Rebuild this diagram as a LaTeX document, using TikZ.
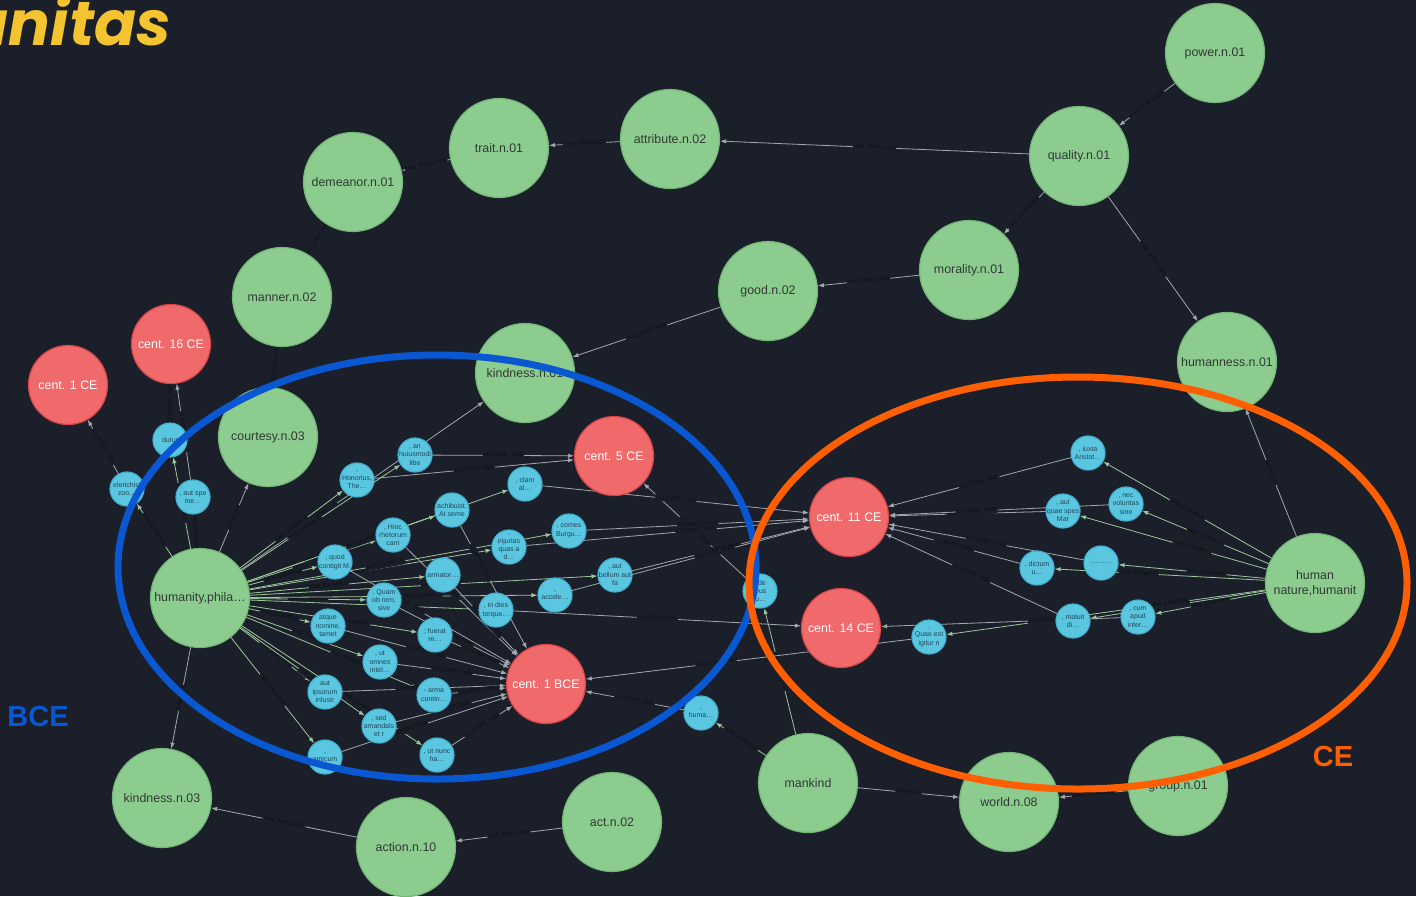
\documentclass[tikz,border=0pt]{standalone}
\usepackage{fontspec}
\setmainfont{Liberation Sans}
\newfontfamily\titlefont{Poppins}
\usetikzlibrary{arrows.meta}

\definecolor{bgc}{HTML}{1B1F2A}
\definecolor{greenfill}{HTML}{8DCC8F}
\definecolor{greenline}{HTML}{74B878}
\definecolor{greentext}{HTML}{2F3A33}
\definecolor{redfill}{HTML}{F0696B}
\definecolor{redline}{HTML}{D9464A}
\definecolor{cyanfill}{HTML}{5BC6E0}
\definecolor{cyanline}{HTML}{41B2CF}
\definecolor{cyantext}{HTML}{23475A}
\definecolor{edgegray}{HTML}{A3A7AE}
\definecolor{edgegreen}{HTML}{9CC79B}
\definecolor{labtext}{HTML}{0C0E13}
\definecolor{bceblue}{HTML}{0A57D2}
\definecolor{ceorange}{HTML}{FF5F00}
\definecolor{titleyellow}{HTML}{F4C430}

\pgfdeclarelayer{bg}
\pgfdeclarelayer{edges}
\pgfsetlayers{bg,edges,main}

\begin{document}
\begin{tikzpicture}[x=0.5pt, y=-0.5pt,
  word/.style={circle, draw=greenline, fill=greenfill, line width=0.6pt, minimum size=49.5pt,
               inner sep=0pt, align=center, text=greentext, font=\fontsize{6.2}{7.4}\selectfont},
  cent/.style={circle, draw=redline, fill=redfill, line width=0.6pt, minimum size=39.5pt,
               inner sep=0pt, text=white, font=\fontsize{6.2}{7.4}\selectfont},
  snippet/.style={circle, draw=cyanline, fill=cyanfill, line width=0.6pt, minimum size=17pt,
               inner sep=-2.5pt, align=center, text=cyantext, font=\fontsize{3.5}{4.2}\selectfont},
  sub/.style={draw=edgegray, line width=0.4pt, -{Latex[length=3pt,width=2.2pt]}},
  ex/.style={draw=edgegreen, line width=0.4pt, -{Latex[length=3pt,width=2.2pt]}},
  lab/.style={fill=bgc, text=labtext, inner sep=0.5pt, sloped, font=\fontsize{2.6}{3}\selectfont}]

  \path[use as bounding box, clip] (0,0) rectangle (1416,896);
  \begin{pgfonlayer}{bg}
    \fill[bgc] (0,0) rectangle (1416,896);
  \end{pgfonlayer}

  % title and period labels
  \node (title) [anchor=base east, text=titleyellow, font=\titlefont\bfseries\itshape\fontsize{31}{31}\selectfont]
        at (178,45) {Humanitas};
  \node (bce) [text=bceblue, font=\bfseries\fontsize{14.5}{15}\selectfont] at (38,716) {BCE};
  \node (ce)  [text=ceorange, font=\bfseries\fontsize{14.5}{15}\selectfont] at (1333,756) {CE};

  % synsets
  \node (power)       [word] at (1215,53)  {power.n.01};
  \node (quality)     [word] at (1079,156) {quality.n.01};
  \node (attribute)   [word] at (670,139)  {attribute.n.02};
  \node (trait)       [word] at (499,148)  {trait.n.01};
  \node (demeanor)    [word] at (353,182)  {demeanor.n.01};
  \node (manner)      [word] at (282,297)  {manner.n.02};
  \node (morality)    [word] at (969,270)  {morality.n.01};
  \node (good)        [word] at (768,291)  {good.n.02};
  \node (humanness)   [word] at (1227,362) {humanness.n.01};
  \node (kindnessa)   [word] at (525,373)  {kindness.n.01};
  \node (courtesy)    [word] at (268,437)  {courtesy.n.03};
  \node (humanity)    [word] at (200,598)  {humanity,phila\dots};
  \node (humannature) [word] at (1315,583) {human\\nature,humanit};
  \node (kindnessb)   [word] at (162,798)  {kindness.n.03};
  \node (action)      [word] at (406,847)  {action.n.10};
  \node (act)         [word] at (612,822)  {act.n.02};
  \node (mankind)     [word] at (808,783)  {mankind};
  \node (world)       [word] at (1009,802) {world.n.08};
  \node (group)       [word] at (1178,786) {group.n.01};

  % centuries
  \node (c1ce)  [cent] at (68,385)  {cent. 1 CE};
  \node (c16)   [cent] at (171,344) {cent. 16 CE};
  \node (c5)    [cent] at (614,456) {cent. 5 CE};
  \node (c11)   [cent] at (849,517) {cent. 11 CE};
  \node (c14)   [cent] at (841,628) {cent. 14 CE};
  \node (c1bce) [cent] at (546,684) {cent. 1 BCE};

  % example sentences
  \node (dutur)   [snippet] at (170,440) {dutur};
  \node (elen)    [snippet] at (127,489) {elenchist\\zoo\dots};
  \node (autspe)  [snippet] at (193,497) {, aut spe\\me\dots};
  \node (honor)   [snippet] at (357,480) {,\\Honorius,\\The\dots};
  \node (huius)   [snippet] at (415,455) {, an\\huiusmodi\\libe};
  \node (hinc)    [snippet] at (393,535) {, Hinc\\rhetorum\\cam};
  \node (achib)   [snippet] at (452,510) {achibuist.\\At seme};
  \node (clam)    [snippet] at (525,484) {, clam\\al\dots};
  \node (quod)    [snippet] at (335,562) {; quod\\contigit M.};
  \node (injur)   [snippet] at (509,547) {,\\injurias\\quas a\\d\dots};
  \node (comes)   [snippet] at (569,531) {, comes\\Burgu\dots};
  \node (armat)   [snippet] at (443,575) {armator\dots};
  \node (bellum)  [snippet] at (615,575) {, aut\\bellum aut\\fa};
  \node (quam)    [snippet] at (384,600) {, Quam\\ob rem,\\sive};
  \node (accel)   [snippet] at (555,595) {,\\accele\dots};
  \node (dies)    [snippet] at (496,610) {, in dies\\torque\dots};
  \node (atque)   [snippet] at (328,626) {atque\\nomine,\\tamet};
  \node (fuerat)  [snippet] at (435,635) {; fuerat\\re\dots};
  \node (omnes)   [snippet] at (380,662) {, ut\\omnes\\intel\dots};
  \node (ipsor)   [snippet] at (325,692) {aut\\ipsorum\\inlustr};
  \node (arma)    [snippet] at (434,695) {- arma\\contin\dots};
  \node (sed)     [snippet] at (379,726) {, sed\\amandals\\et r};
  \node (amic)    [snippet] at (325,757) {,\\amicum};
  \node (nunc)    [snippet] at (437,755) {, ut nunc\\ha\dots};
  \node (deibus)  [snippet] at (760,591) {, de\\ibus\\iu\dots};
  \node (huma)    [snippet] at (701,713) {,\\huma\dots};
  \node (iuxta)   [snippet] at (1088,453) {, iuxta\\Aristot\dots};
  \node (spes)    [snippet] at (1063,511) {, aut\\quae spes\\Mar};
  \node (volunt)  [snippet] at (1126,504) {, nec\\voluntas\\sine};
  \node (blank)   [snippet] at (1101,563) {\dots\dots\dots};
  \node (dictum)  [snippet] at (1037,568) {, dictum\\u\dots};
  \node (maluit)  [snippet] at (1073,621) {, maluit\\di\dots};
  \node (cumapud) [snippet] at (1138,617) {, cum\\apud\\infer\dots};
  \node (quae)    [snippet] at (929,637)  {.\\Quae est\\igitur n};

  \begin{pgfonlayer}{edges}
    % hierarchy
    \draw[sub] (power)       -- (quality)   node[lab, midway] {HAS\_SUBCLASS};
    \draw[sub] (quality)     -- (attribute) node[lab, midway] {HAS\_SUBCLASS};
    \draw[sub] (attribute)   -- (trait)     node[lab, midway] {HAS\_SUBCLASS};
    \draw[sub] (trait)       -- (demeanor)  node[lab, midway] {HAS\_SUBCLASS};
    \draw[sub] (demeanor)    -- (manner)    node[lab, midway] {HAS\_SUBCLASS};
    \draw[sub] (manner)      -- (courtesy)  node[lab, midway] {HAS\_SUBCLASS};
    \draw[sub] (quality)     -- (morality)  node[lab, midway] {HAS\_SUBCLASS};
    \draw[sub] (quality)     -- (humanness) node[lab, midway] {HAS\_SUBCLASS};
    \draw[sub] (morality)    -- (good)      node[lab, midway] {HAS\_SUBCLASS};
    \draw[sub] (good)        -- (kindnessa) node[lab, midway] {HAS\_SUBCLASS};
    \draw[sub] (humanity)    -- (kindnessa) node[lab, pos=0.35] {SAME\_AS};
    \draw[sub] (humanity)    -- (courtesy)  node[lab, midway] {SAME\_AS};
    \draw[sub] (humanity)    -- (kindnessb) node[lab, midway] {SAME\_AS};
    \draw[sub] (action)      -- (kindnessb) node[lab, midway] {HAS\_SUBCLASS};
    \draw[sub] (act)         -- (action)    node[lab, midway] {HAS\_SUBCLASS};
    \draw[sub] (mankind)     -- (world)     node[lab, midway] {SAME\_AS};
    \draw[sub] (group)       -- (world)     node[lab, midway] {HAS\_SUBCLASS};
    \draw[sub] (humannature) -- (humanness) node[lab, midway] {SAME\_AS};

    % examples of humanity
    \draw[ex] (humanity) -- (elen)   node[lab, midway] {HAS\_EXAMPLE};
    \draw[ex] (humanity) -- (dutur)  node[lab, midway] {HAS\_EXAMPLE};
    \draw[ex] (humanity) -- (autspe) node[lab, midway] {HAS\_EXAMPLE};
    \draw[ex] (humanity) -- (honor)  node[lab, midway] {HAS\_EXAMPLE};
    \draw[ex] (humanity) -- (huius)  node[lab, pos=0.4] {HAS\_EXAMPLE};
    \draw[ex] (humanity) -- (hinc)   node[lab, midway] {HAS\_EXAMPLE};
    \draw[ex] (humanity) -- (achib)  node[lab, pos=0.4] {HAS\_EXAMPLE};
    \draw[ex] (humanity) -- (clam)   node[lab, pos=0.45] {HAS\_EXAMPLE};
    \draw[ex] (humanity) -- (quod)   node[lab, midway] {HAS\_EXAMPLE};
    \draw[ex] (humanity) -- (injur)  node[lab, pos=0.4] {HAS\_EXAMPLE};
    \draw[ex] (humanity) -- (comes)  node[lab, pos=0.45] {HAS\_EXAMPLE};
    \draw[ex] (humanity) -- (armat)  node[lab, pos=0.45] {HAS\_EXAMPLE};
    \draw[ex] (humanity) -- (bellum) node[lab, pos=0.55] {HAS\_EXAMPLE};
    \draw[ex] (humanity) -- (quam)   node[lab, midway] {HAS\_EXAMPLE};
    \draw[ex] (humanity) -- (accel)  node[lab, pos=0.6] {HAS\_EXAMPLE};
    \draw[ex] (humanity) -- (dies)   node[lab, pos=0.6] {HAS\_EXAMPLE};
    \draw[ex] (humanity) -- (atque)  node[lab, midway] {HAS\_EXAMPLE};
    \draw[ex] (humanity) -- (fuerat) node[lab, pos=0.6] {HAS\_EXAMPLE};
    \draw[ex] (humanity) -- (omnes)  node[lab, pos=0.55] {HAS\_EXAMPLE};
    \draw[ex] (humanity) -- (ipsor)  node[lab, midway] {HAS\_EXAMPLE};
    \draw[ex] (humanity) -- (arma)   node[lab, pos=0.6] {HAS\_EXAMPLE};
    \draw[ex] (humanity) -- (sed)    node[lab, pos=0.6] {HAS\_EXAMPLE};
    \draw[ex] (humanity) -- (amic)   node[lab, midway] {HAS\_EXAMPLE};
    \draw[ex] (humanity) -- (nunc)   node[lab, pos=0.65] {HAS\_EXAMPLE};

    % examples of mankind and human nature
    \draw[ex] (mankind)     -- (huma)    node[lab, midway] {HAS\_EXAMPLE};
    \draw[ex] (mankind)     -- (deibus)  node[lab, midway] {HAS\_EXAMPLE};
    \draw[ex] (humannature) -- (iuxta)   node[lab, midway] {HAS\_EXAMPLE};
    \draw[ex] (humannature) -- (volunt)  node[lab, midway] {HAS\_EXAMPLE};
    \draw[ex] (humannature) -- (spes)    node[lab, pos=0.4] {HAS\_EXAMPLE};
    \draw[ex] (humannature) -- (blank)   node[lab, pos=0.4] {HAS\_EXAMPLE};
    \draw[ex] (humannature) -- (dictum)  node[lab, pos=0.6] {HAS\_EXAMPLE};
    \draw[ex] (humannature) -- (cumapud) node[lab, midway] {HAS\_EXAMPLE};
    \draw[ex] (humannature) -- (maluit)  node[lab, pos=0.65] {HAS\_EXAMPLE};
    \draw[ex] (humannature) -- (quae)    node[lab, pos=0.3] {HAS\_EXAMPLE};

    % centuries of the sentences
    \draw[sub] (elen)    -- (c1ce)  node[lab, midway] {CLUSTER\_TIME};
    \draw[sub] (dutur)   -- (c16)   node[lab, midway] {CLUSTER\_TIME};
    \draw[sub] (autspe)  -- (c16)   node[lab, midway] {CLUSTER\_TIME};
    \draw[sub] (honor)   -- (c5)    node[lab, midway] {CLUSTER\_TIME};
    \draw[sub] (huius)   -- (c5)    node[lab, midway] {CLUSTER\_TIME};
    \draw[sub] (deibus)  -- (c5)    node[lab, midway] {CLUSTER\_TIME};
    \draw[sub] (clam)    -- (c11)   node[lab, midway] {CLUSTER\_TIME};
    \draw[sub] (comes)   -- (c11)   node[lab, midway] {CLUSTER\_TIME};
    \draw[sub] (injur)   -- (c11)   node[lab, pos=0.6] {CLUSTER\_TIME};
    \draw[sub] (bellum)  -- (c11)   node[lab, midway] {CLUSTER\_TIME};
    \draw[sub] (accel)   -- (c11)   node[lab, pos=0.6] {CLUSTER\_TIME};
    \draw[sub] (iuxta)   -- (c11)   node[lab, midway] {CLUSTER\_TIME};
    \draw[sub] (spes)    -- (c11)   node[lab, midway] {CLUSTER\_TIME};
    \draw[sub] (volunt)  -- (c11)   node[lab, pos=0.6] {CLUSTER\_TIME};
    \draw[sub] (blank)   -- (c11)   node[lab, midway] {CLUSTER\_TIME};
    \draw[sub] (dictum)  -- (c11)   node[lab, midway] {CLUSTER\_TIME};
    \draw[sub] (maluit)  -- (c11)   node[lab, midway] {CLUSTER\_TIME};
    \draw[sub] (cumapud) -- (c14)   node[lab, pos=0.3] {CLUSTER\_TIME};
    \draw[sub] (dies)    -- (c14)   node[lab, midway] {CLUSTER\_TIME};
    \draw[sub] (quae)    -- (c1bce) node[lab, pos=0.6] {CLUSTER\_TIME};
    \draw[sub] (huma)    -- (c1bce) node[lab, midway] {CLUSTER\_TIME};
    \draw[sub] (achib)   -- (c1bce) node[lab, pos=0.3] {CLUSTER\_TIME};
    \draw[sub] (hinc)    -- (c1bce) node[lab, pos=0.35] {CLUSTER\_TIME};
    \draw[sub] (armat)   -- (c1bce) node[lab, midway] {CLUSTER\_TIME};
    \draw[sub] (quod)    -- (c1bce) node[lab, pos=0.35] {CLUSTER\_TIME};
    \draw[sub] (quam)    -- (c1bce) node[lab, midway] {CLUSTER\_TIME};
    \draw[sub] (fuerat)  -- (c1bce) node[lab, midway] {CLUSTER\_TIME};
    \draw[sub] (atque)   -- (c1bce) node[lab, midway] {CLUSTER\_TIME};
    \draw[sub] (omnes)   -- (c1bce) node[lab, midway] {CLUSTER\_TIME};
    \draw[sub] (ipsor)   -- (c1bce) node[lab, pos=0.45] {CLUSTER\_TIME};
    \draw[sub] (arma)    -- (c1bce) node[lab, midway] {CLUSTER\_TIME};
    \draw[sub] (sed)     -- (c1bce) node[lab, midway] {CLUSTER\_TIME};
    \draw[sub] (nunc)    -- (c1bce) node[lab, midway] {CLUSTER\_TIME};
    \draw[sub] (amic)    -- (c1bce) node[lab, pos=0.4] {CLUSTER\_TIME};
  \end{pgfonlayer}

  % period rings
  \draw[bceblue, line width=3.5pt]  (437,567)  ellipse [x radius=159.5pt, y radius=106pt];
  \draw[ceorange, line width=3.5pt] (1078,583) ellipse [x radius=164.5pt, y radius=103pt];
\end{tikzpicture}
\end{document}
